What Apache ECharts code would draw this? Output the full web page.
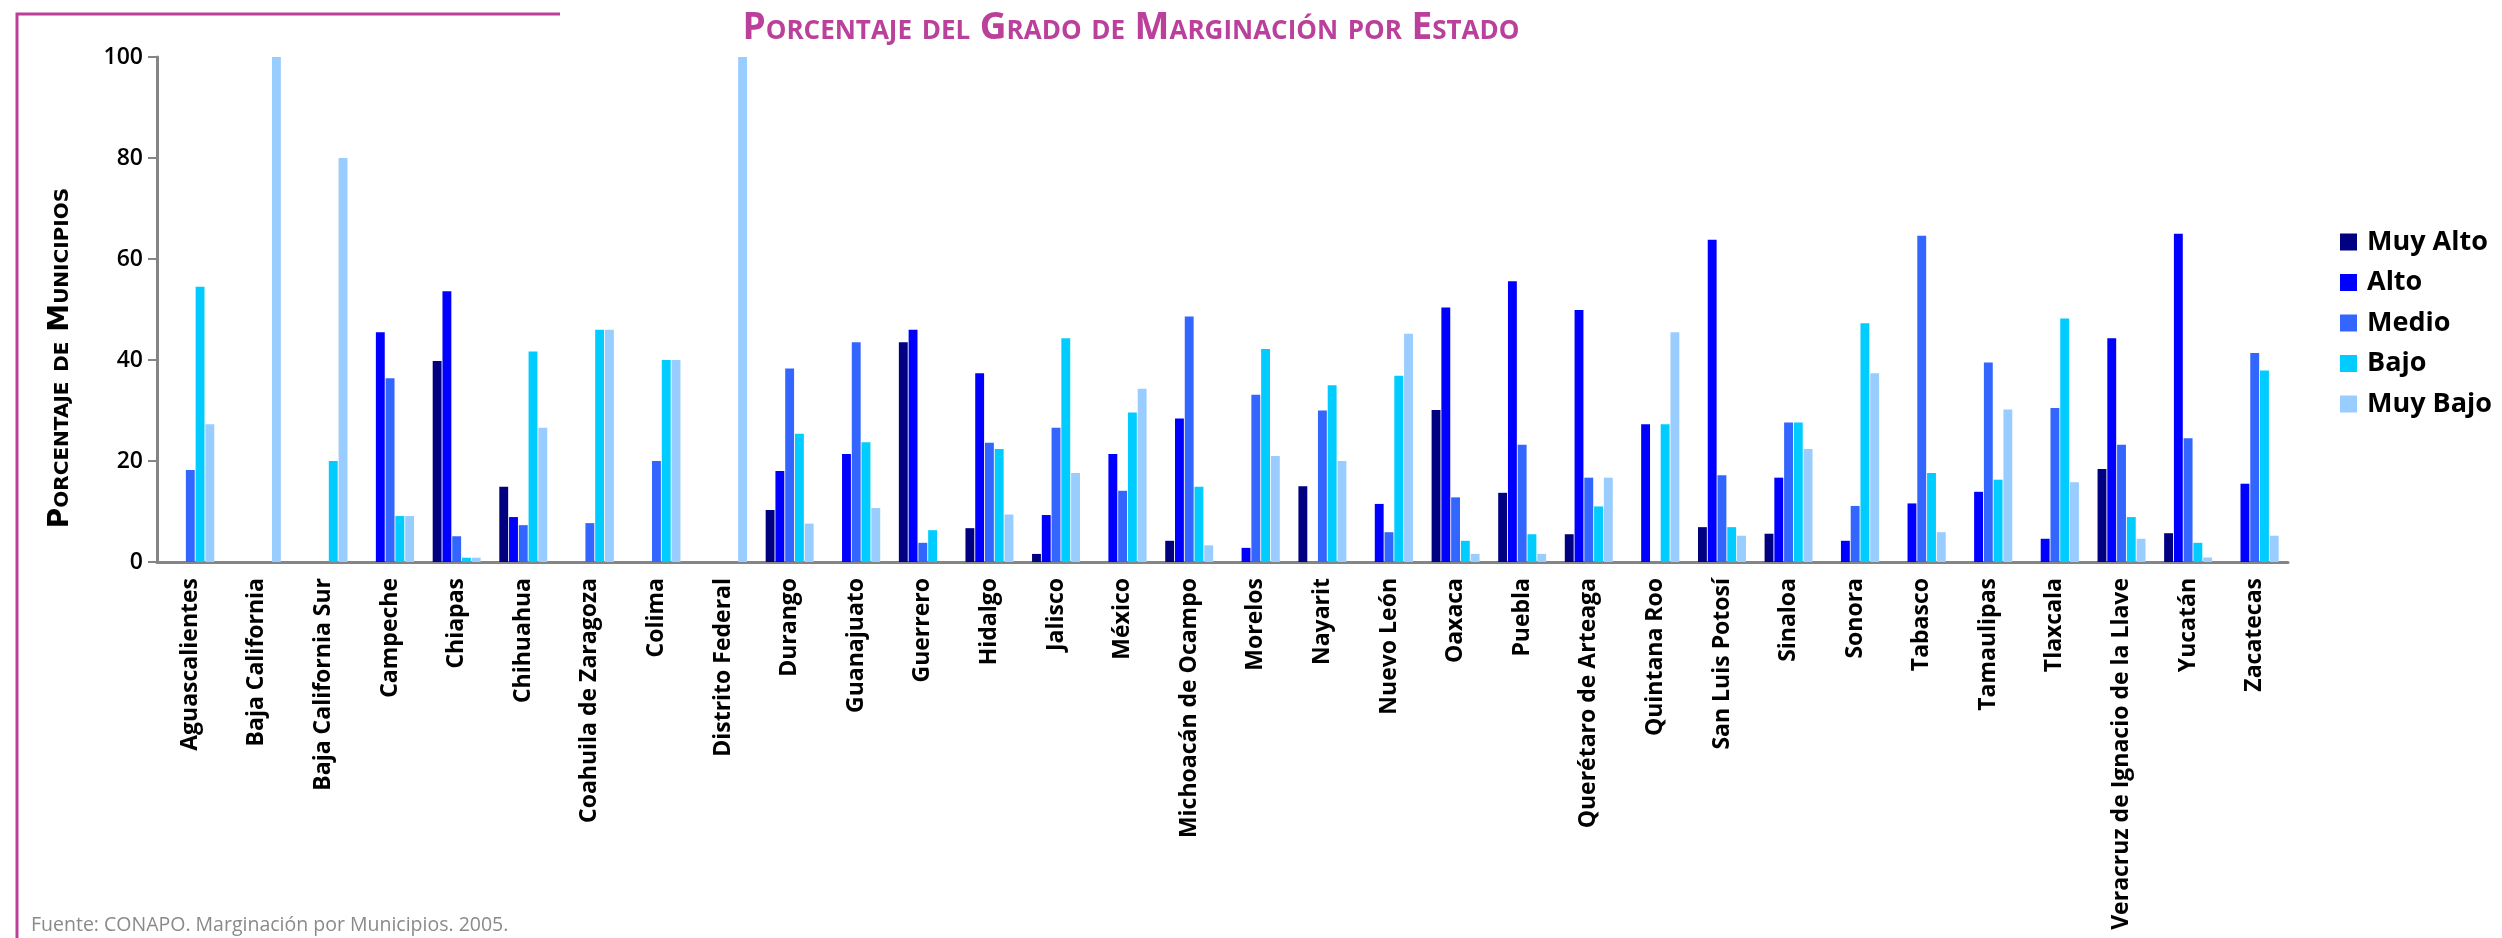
<!DOCTYPE html>
<html>
<head>
<meta charset="utf-8">
<title>Porcentaje del Grado de Marginación por Estado</title>
<script src="https://cdn.jsdelivr.net/npm/echarts@6/dist/echarts.min.js"></script>
<style>
    html, body { margin: 0; padding: 0; background: #fff; }
    #chart { width: 2502px; height: 938px; }
</style>
</head>
<body>
<div id="chart"></div>
<script>
let estados = ['Aguascalientes', 'Baja California', 'Baja California Sur', 'Campeche', 'Chiapas', 'Chihuahua',
    'Coahuila de Zaragoza', 'Colima', 'Distrito Federal', 'Durango', 'Guanajuato', 'Guerrero', 'Hidalgo',
    'Jalisco', 'México', 'Michoacán de Ocampo', 'Morelos', 'Nayarit', 'Nuevo León', 'Oaxaca', 'Puebla',
    'Querétaro de Arteaga', 'Quintana Roo', 'San Luis Potosí', 'Sinaloa', 'Sonora', 'Tabasco', 'Tamaulipas',
    'Tlaxcala', 'Veracruz de Ignacio de la Llave', 'Yucatán', 'Zacatecas'];

// porcentaje de municipios por grado
let muyAlto = [0, 0, 0, 0, 39.8, 14.9, 0, 0, 0, 10.3, 0, 43.5, 6.7, 1.6, 0, 4.2, 0, 15, 0, 30.1, 13.7, 5.5, 0, 6.9, 5.6, 0, 0, 0, 0, 18.4, 5.7, 0];
let alto = [0, 0, 0, 45.5, 53.6, 8.9, 0, 0, 0, 18, 21.4, 46, 37.4, 9.3, 21.4, 28.4, 2.8, 0, 11.5, 50.4, 55.6, 49.9, 27.3, 63.8, 16.7, 4.2, 11.6, 13.9, 4.6, 44.3, 65, 15.5];
let medio = [18.2, 0, 0, 36.4, 5.1, 7.3, 7.7, 20, 0, 38.3, 43.5, 3.8, 23.6, 26.6, 14.1, 48.6, 33.1, 30, 5.9, 12.8, 23.2, 16.7, 0, 17.2, 27.6, 11.1, 64.6, 39.5, 30.5, 23.2, 24.5, 41.4];
let bajo = [54.5, 0, 20, 9.1, 0.85, 41.7, 46, 40, 0, 25.4, 23.7, 6.3, 22.4, 44.3, 29.6, 14.9, 42.2, 35, 36.9, 4.2, 5.5, 11, 27.3, 6.9, 27.6, 47.3, 17.6, 16.3, 48.2, 8.9, 3.8, 37.9];
let muyBajo = [27.3, 100, 80, 9.1, 0.85, 26.6, 46, 40, 100, 7.6, 10.7, 0, 9.4, 17.6, 34.3, 3.3, 21, 20, 45.2, 1.6, 1.6, 16.7, 45.5, 5.2, 22.4, 37.4, 5.9, 30.2, 15.8, 4.6, 0.9, 5.2];

let grados = ['Muy Alto', 'Alto', 'Medio', 'Bajo', 'Muy Bajo'];
let colores = ['#000080', '#0000FF', '#3366FF', '#00CCFF', '#99CCFF'];
let yTicks = [0, 20, 40, 60, 80, 100];

let chart = echarts.init(document.getElementById('chart'));
let axisGray = '#858585';
let magenta = '#BB409C';

let series = [muyAlto, alto, medio, bajo, muyBajo].map((values, i) => ({
    name: grados[i],
    type: 'bar',
    data: values,
    barGap: '10%',
    barCategoryGap: '28%',
    itemStyle: { color: colores[i] }
}));

chart.setOption({
    animation: false,
    color: colores,
    title: [
        {
            text: 'Porcentaje del Grado de Marginación por Estado',
            left: 1126,
            top: 5,
            textAlign: 'center',
            textStyle: {
                fontFamily: "'Open Sans', sans-serif",
                fontStyle: 'small-caps',
                fontWeight: 'bold',
                fontSize: 37,
                color: magenta
            }
        },
        {
            text: 'Fuente: CONAPO. Marginación por Municipios. 2005.',
            left: 26,
            top: 910,
            textStyle: {
                fontFamily: "'Open Sans', sans-serif",
                fontWeight: 'normal',
                fontSize: 19.5,
                color: '#8a8a8a'
            }
        }
    ],
    legend: {
        orient: 'vertical',
        left: 2335,
        top: 223,
        itemWidth: 17,
        itemHeight: 17,
        itemGap: 12.5,
        icon: 'rect',
        data: grados,
        textStyle: {
            fontFamily: "'Open Sans', sans-serif",
            fontWeight: 'bold',
            fontSize: 27,
            lineHeight: 28,
            color: '#000',
            padding: [0, 0, 0, 5]
        }
    },
    grid: {
        left: 157,
        right: 214,
        top: 57,
        bottom: 376
    },
    xAxis: {
        type: 'category',
        data: estados,
        axisLine: { lineStyle: { color: axisGray, width: 3 } },
        axisTick: { length: 9, lineStyle: { color: axisGray, width: 2 } },
        axisLabel: {
            interval: 0,
            rotate: 90,
            margin: 16,
            fontFamily: "'Open Sans', sans-serif",
            fontWeight: 'bold',
            fontSize: 23,
            color: '#000'
        }
    },
    yAxis: {
        type: 'value',
        min: yTicks[0],
        max: yTicks[yTicks.length - 1],
        interval: 20,
        name: 'Porcentaje de Municipios',
        nameLocation: 'middle',
        nameGap: 82,
        nameRotate: 90,
        nameTextStyle: {
            fontFamily: "'DejaVu Sans', sans-serif",
            fontStyle: 'small-caps',
            fontWeight: 'bold',
            fontSize: 28,
            color: '#000',
            padding: [0, 97, 0, 0]
        },
        splitLine: { show: false },
        axisLine: { show: true, lineStyle: { color: axisGray, width: 3 } },
        axisTick: { show: true, length: 9, lineStyle: { color: axisGray, width: 2 } },
        axisLabel: {
            margin: 14,
            fontFamily: "'Open Sans', sans-serif",
            fontWeight: 600,
            fontSize: 23,
            color: '#000'
        }
    },
    graphic: [
        {
            type: 'polyline',
            shape: { points: [[560, 14], [17, 14], [17, 938]] },
            style: { stroke: magenta, lineWidth: 3, fill: null }
        }
    ],
    series: series
});
</script>
</body>
</html>
